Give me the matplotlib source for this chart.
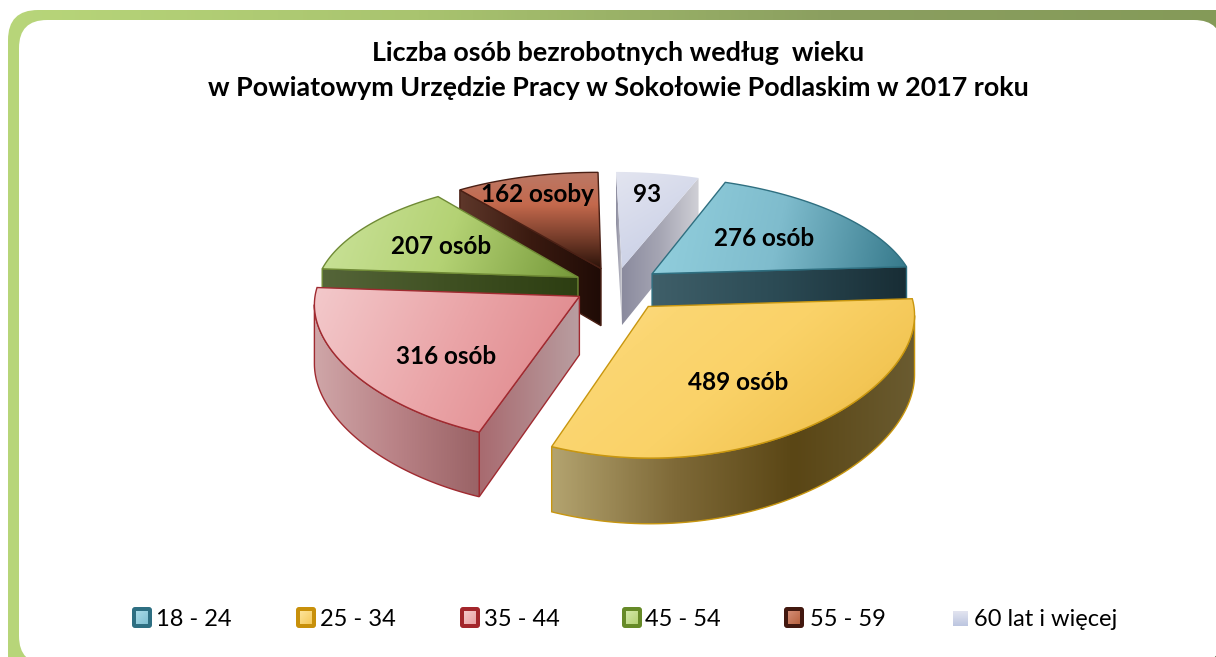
import numpy as np
import matplotlib
matplotlib.use('Agg')
import matplotlib.pyplot as plt
from matplotlib.colors import LinearSegmentedColormap
from matplotlib.patches import Polygon, FancyBboxPatch

age_groups = ['18 - 24', '25 - 34', '35 - 44', '45 - 54', '55 - 59', '60 lat i więcej']
counts = [276, 489, 316, 207, 162, 93]
count_labels = ['276 osób', '489 osób', '316 osób', '207 osób', '162 osoby', '93']
title_lines = ['Liczba osób bezrobotnych według  wieku',
               'w Powiatowym Urzędzie Pracy w Sokołowie Podlaskim w 2017 roku']

plt.rcParams['font.family'] = ['Lato', 'DejaVu Sans']

# look of each slice: top colours + angle, wall colours, edge colour
TOP = [(['#93d0de', '#7fbccd', '#36798b'], 12),
       (['#fde08e', '#fbd672', '#fad268', '#f3c655', '#e0ac38'], 50),
       (['#f3c9cb', '#eaa4a7', '#dd8286'], 25),
       (['#cbe39b', '#b4d274', '#76993a'], 20),
       (['#bb7966', '#c4694d', '#7a3f2c', '#2a1209'], 90),
       (['#e3e5f0', '#c4cbe4'], 60)]
WALL = [['#3f5f69', '#2b4a54', '#182d35'],
        ['#b3a36f', '#7f6a38', '#5a4615', '#6a5b30'],
        ['#cfa6a8', '#b98286', '#9a6366'],
        ['#556539', '#3f5022', '#2d3e12'],
        ['#5e372a', '#3a1a10', '#1f0b06'],
        ['#8b8b9e', '#a6a6b4', '#d0d0d6']]
CUT = [None, None, ['#a86a6f', '#b99ea1'], None, None, None]
EDGE = ['#2f6f80', '#c8960f', '#a02a30', '#6f8a35', '#4a2015', 'none']
LEGEND_RIM = ['#2e6f82', '#c8900a', '#a3262b', '#668a28', '#42180f', None]
LEGEND_IN = [['#7fc0d2', '#a9dbe8'], ['#f5c95a', '#fde49a'], ['#e9a0a2', '#f5c9ca'],
             ['#b4d274', '#d3e8a8'], ['#b8623f', '#d48d76'], None]

# pie geometry in pixels
CX, CY = 615, 286
RX, RY = 263, 118
EXPLODE = [0.18, 0.21, 0.16, 0.16, 0.16, 0.16]
PERSP_X, PERSP_Y = 0.17, 0.17
FRONT_X = 0.06
SKEW = 6
DEPTH = 58
START = 68.0

W, H = 1216, 657
fig = plt.figure(figsize=(W / 100, H / 100), dpi=100)
ax = fig.add_axes([0, 0, 1, 1])
ax.set_xlim(0, W)
ax.set_ylim(H, 0)
ax.axis('off')


def project(x, y):
    # back of the pie gets narrower and leans a bit left, front widens a little
    sx = 1 + PERSP_X * max(y, 0) + FRONT_X * min(y, 0)
    return (CX + RX * x / sx - SKEW * max(y, 0),
            CY - RY * y / (1 + PERSP_Y * y))


def extrude(pts):
    # move points straight down by the thickness of the pie
    out = []
    for (px, py), (_, yy) in pts:
        out.append((px, py + DEPTH / (1 + 0.1 * yy)))
    return out


def grad_fill(poly, colors, angle, z):
    poly = np.array(poly)
    x0, y0 = poly.min(axis=0)
    x1, y1 = poly.max(axis=0)
    xx, yy = np.meshgrid(np.linspace(x0, x1, 200), np.linspace(y0, y1, 200))
    a = np.radians(angle)
    t = (xx - x0) * np.cos(a) + (yy - y0) * np.sin(a)
    t = (t - t.min()) / (t.max() - t.min())
    cmap = LinearSegmentedColormap.from_list('g', colors)
    im = ax.imshow(t, cmap=cmap, extent=(x0, x1, y1, y0), origin='upper',
                   aspect='auto', zorder=z, interpolation='bilinear')
    clip = Polygon(poly, closed=True, transform=ax.transData)
    im.set_clip_path(clip)


def wall(run, colors, angle, edge, z):
    # run = list of ((px, py), (x, y)) along the top edge
    top = [p for p, _ in run]
    bottom = extrude(run)
    poly = top + bottom[::-1]
    grad_fill(poly, colors, angle, z)
    if edge != 'none':
        ax.add_patch(Polygon(poly, closed=True, fill=False, edgecolor=edge, lw=1, zorder=z + 0.1))


# frame behind the white panel
gx, gy = np.meshgrid(np.linspace(0, 1, 300), np.linspace(0, 1, 160))
frame_cmap = LinearSegmentedColormap.from_list('f', ['#b8d67a', '#a9c46f', '#8b9f60', '#849a58'])
frame = ax.imshow(gx, cmap=frame_cmap, extent=(0, W + 30, H + 30, 0), origin='upper',
                  aspect='auto', zorder=0.1)
outer = FancyBboxPatch((8 + 30, 10 + 30), 1300, 800, boxstyle='round,pad=30,rounding_size=30',
                       transform=ax.transData)
frame.set_clip_path(outer)
ax.add_patch(Polygon([(1190, 657), (1216, 657), (1216, 630)], closed=True, color='#4f6228', zorder=0.15))
ax.add_patch(FancyBboxPatch((19 + 28, 20 + 28), 1222 - 19 - 56, 664 - 20 - 56,
                            boxstyle='round,pad=28,rounding_size=28', fc='white', ec='none', zorder=0.2))
ax.set_xlim(0, W)
ax.set_ylim(H, 0)

# slices, angles come from the counts
sweeps = np.array(counts) / sum(counts) * 360.0
ends = START - np.cumsum(sweeps)
starts = ends + sweeps
paint_order = [4, 5, 3, 0, 2, 1]

z = 1.0
for i in paint_order:
    mid = np.radians((starts[i] + ends[i]) / 2)
    ox, oy = EXPLODE[i] * np.cos(mid), EXPLODE[i] * np.sin(mid)
    th = np.radians(np.linspace(starts[i], ends[i], 120))
    rim = [(ox + np.cos(t), oy + np.sin(t)) for t in th]
    apex = (ox, oy)
    rim_p = [(project(*p), p) for p in rim]
    apex_p = (project(*apex), apex)

    # walls that face us are those where the outline runs right to left
    edge = EDGE[i]
    first = [apex_p, rim_p[0]]
    last = [rim_p[-1], apex_p]
    cut_cols = CUT[i] or WALL[i]
    if first[1][0][0] < first[0][0][0]:
        wall(first, cut_cols, 0, edge, z)
        z += 0.2
    if last[1][0][0] < last[0][0][0]:
        wall(last, cut_cols, 0, edge, z)
        z += 0.2
    keep = [k for k in range(1, len(rim_p)) if rim_p[k][0][0] < rim_p[k - 1][0][0]]
    if len(keep) > 2:
        run = rim_p[keep[0] - 1:keep[-1] + 1]
        wall(run, WALL[i], 0, edge, z)
        z += 0.2

    top = [apex_p[0]] + [p for p, _ in rim_p]
    grad_fill(top, TOP[i][0], TOP[i][1], z)
    z += 0.1
    if edge != 'none':
        ax.add_patch(Polygon(top, closed=True, fill=False, edgecolor=edge, lw=1, zorder=z))
    z += 0.2

ax.set_xlim(0, W)
ax.set_ylim(H, 0)

# labels on slices
label_pos = [(764, 239), (738, 383), (446, 356), (441, 246), (537, 195), (647, 194)]
for txt, (lx, ly) in zip(count_labels, label_pos):
    ax.text(lx, ly, txt, ha='center', va='center', fontsize=17.5, fontweight='bold', color='black', zorder=50)

# title
ax.text(618, 53, title_lines[0], ha='center', va='center', fontsize=19.4, fontweight='bold', color='black', zorder=50)
ax.text(618, 88, title_lines[1], ha='center', va='center', fontsize=19.4, fontweight='bold', color='black', zorder=50)

# legend
leg_x = [132, 296, 460, 622, 784, 953]
text_x = [156, 320, 484, 645, 810, 974]
for i, name in enumerate(age_groups):
    if LEGEND_RIM[i] is not None:
        ax.add_patch(FancyBboxPatch((leg_x[i] + 2, 609), 16, 17, boxstyle='round,pad=2,rounding_size=3',
                                    fc=LEGEND_RIM[i], ec='none', zorder=40))
        grad_fill([(leg_x[i] + 4, 611), (leg_x[i] + 16, 611), (leg_x[i] + 16, 624), (leg_x[i] + 4, 624)],
                  LEGEND_IN[i][::-1], 45, 41)
    else:
        grad_fill([(leg_x[i], 611), (leg_x[i] + 15, 611), (leg_x[i] + 15, 626), (leg_x[i], 626)],
                  ['#e3e5f0', '#bcc5e0'], 90, 41)
    ax.text(text_x[i], 619, name, ha='left', va='center', fontsize=17, color='black', zorder=50)

ax.set_xlim(0, W)
ax.set_ylim(H, 0)
fig.savefig('out.png', dpi=100)
